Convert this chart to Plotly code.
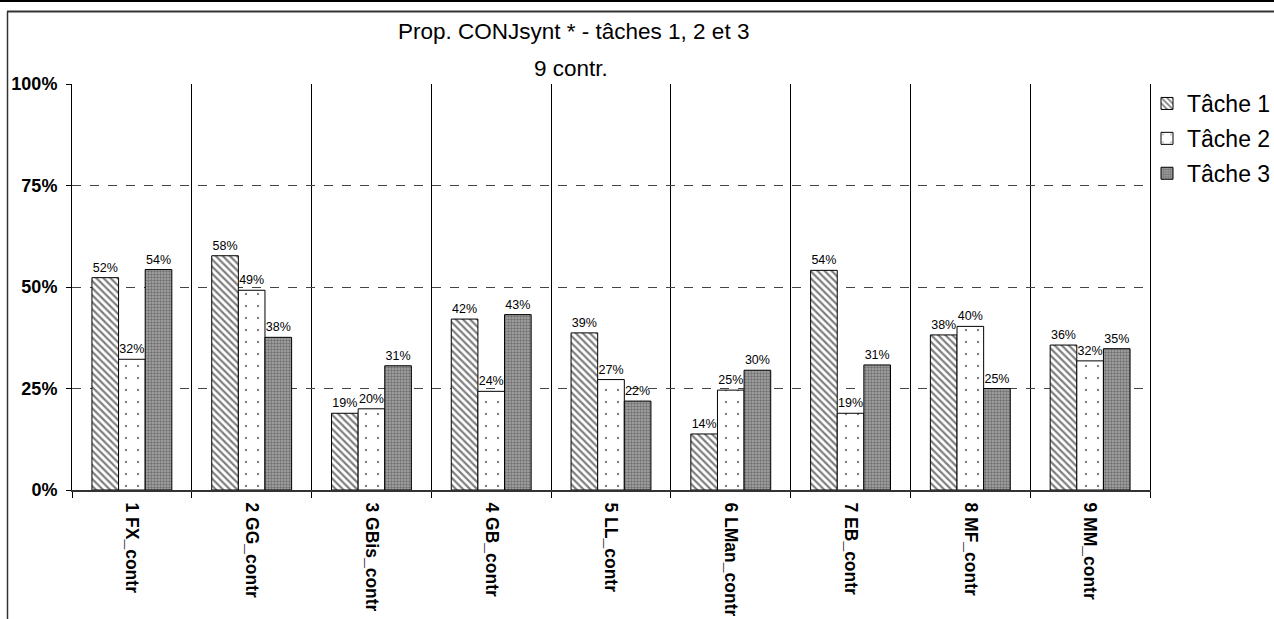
import plotly.graph_objects as go

categories = ["1 FX_contr", "2 GG_contr", "3 GBis_contr", "4 GB_contr", "5 LL_contr",
              "6 LMan_contr", "7 EB_contr", "8 MF_contr", "9 MM_contr"]
tache1 = [0.523, 0.577, 0.189, 0.421, 0.387, 0.138, 0.541, 0.382, 0.357]
tache2 = [0.322, 0.492, 0.200, 0.243, 0.272, 0.246, 0.189, 0.403, 0.318]
tache3 = [0.543, 0.376, 0.306, 0.432, 0.219, 0.295, 0.308, 0.250, 0.348]
series_names = ["Tâche 1", "Tâche 2", "Tâche 3"]
y_ticks = [0, 0.25, 0.5, 0.75, 1.0]
y_tick_labels = ["0%", "25%", "50%", "75%", "100%"]

FONT = "Liberation Sans, Arial, sans-serif"

W, H = 1274, 619
L, R, T, B = 72, 1150, 84, 490

fig = go.Figure()

styles = [
    dict(marker_color="white",
         marker_pattern=dict(shape="\\", fgcolor="black", bgcolor="white", size=5, solidity=0.45)),
    dict(marker_color="white",
         marker_pattern=dict(shape=".", fgcolor="black", bgcolor="white", size=12, solidity=0.03)),
    dict(marker_color="#8c8c8c",
         marker_pattern=dict(shape=".", fgcolor="#3a3a3a", bgcolor="#a8a8a8", size=3, solidity=0.5)),
]

for i, (name, vals) in enumerate(zip(series_names, [tache1, tache2, tache3])):
    fig.add_trace(go.Bar(
        x=categories, y=vals, name=name,
        marker_line=dict(color="black", width=1),
        text=[f"{round(v*100):d}%" for v in vals],
        textposition="outside",
        textfont=dict(family=FONT, size=12.5, color="black"),
        cliponaxis=False,
        legendgroup=f"g{i}",
        **styles[i],
    ))

def px_x(x):
    return (x - L) / (R - L)

def px_y(y):
    return (B - y) / (B - T)

shapes = [
    # top line across the page
    dict(type="line", xref="paper", yref="paper", x0=px_x(-5), x1=px_x(W + 5),
         y0=px_y(1), y1=px_y(1), line=dict(color="black", width=2)),
    # outer frame top and left
    dict(type="line", xref="paper", yref="paper", x0=px_x(7), x1=px_x(W + 5),
         y0=px_y(11.5), y1=px_y(11.5), line=dict(color="#333333", width=2)),
    dict(type="line", xref="paper", yref="paper", x0=px_x(7.5), x1=px_x(7.5),
         y0=px_y(11.5), y1=px_y(H + 5), line=dict(color="#333333", width=1.5)),
]

annotations = [
    dict(text="Prop. CONJsynt * - tâches 1, 2 et 3", xref="paper", yref="paper",
         x=px_x(573), y=px_y(32), xanchor="center", yanchor="middle", showarrow=False,
         font=dict(family=FONT, size=22.5, color="black")),
    dict(text="9 contr.", xref="paper", yref="paper",
         x=px_x(571), y=px_y(68), xanchor="center", yanchor="middle", showarrow=False,
         font=dict(family=FONT, size=22.5, color="black")),
]

fig.update_layout(
    width=W, height=H,
    margin=dict(l=L, r=W - R, t=T, b=H - B, autoexpand=False),
    paper_bgcolor="white", plot_bgcolor="white",
    barmode="group", bargap=0.333, bargroupgap=0,
    showlegend=True,
    legend=dict(x=px_x(1147), y=px_y(82), xanchor="left", yanchor="top",
                font=dict(family=FONT, size=23, color="black"),
                bgcolor="rgba(0,0,0,0)", tracegroupgap=2, traceorder="grouped",
                itemwidth=30),
    shapes=shapes,
    annotations=annotations,
    font=dict(family=FONT, color="black"),
)

fig.update_xaxes(
    type="category", tickson="boundaries", ticks="outside", ticklen=6, tickcolor="black",
    showgrid=True, gridcolor="black", gridwidth=1,
    showline=True, linecolor="#333333", linewidth=2, mirror=False,
    tickangle=90, ticklabelstandoff=7,
    tickfont=dict(family=FONT, size=17.5, color="black", weight="bold"),
)

fig.update_yaxes(
    range=[0, 1], tickvals=y_ticks, ticktext=y_tick_labels,
    ticks="outside", ticklen=5, tickcolor="black",
    showgrid=True, gridcolor="#444444", gridwidth=1, griddash="dash",
    showline=True, linecolor="black", linewidth=1, mirror=True,
    zeroline=False, ticklabelstandoff=5,
    tickfont=dict(family=FONT, size=18, color="black", weight="bold"),
)

fig.write_html("out.html", config={"displayModeBar": False},
               post_script="document.body.style.margin='0';")
